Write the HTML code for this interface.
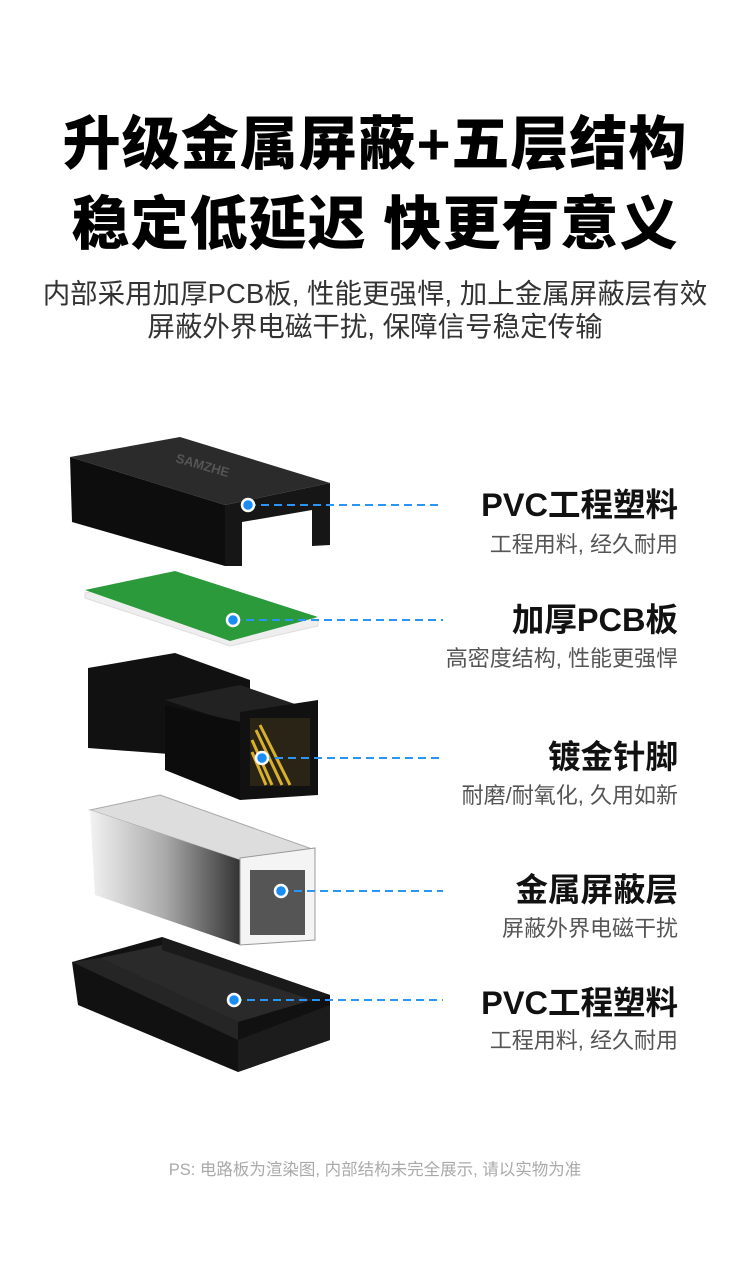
<!DOCTYPE html>
<html><head><meta charset="utf-8"><style>
body{margin:0;background:#fff;width:750px;height:1287px;position:relative;overflow:hidden;font-family:"Liberation Sans","Noto Sans CJK SC",sans-serif}
.t{position:absolute;left:0;width:750px;text-align:center;font-weight:900;font-size:58px;color:#000;letter-spacing:1px}
.s{position:absolute;left:0;width:750px;text-align:center;font-size:27.5px;color:#333;line-height:32px}
.l{position:absolute;right:72px;text-align:right;font-weight:bold;font-size:32.5px;color:#111}
.d{position:absolute;right:72px;text-align:right;font-size:22px;color:#555}
</style></head><body>
<div class="t" style="top:97px">升级金属屏蔽+五层结构</div>
<div class="t" style="top:177px">稳定低延迟 快更有意义</div>
<div class="s" style="top:278px">内部采用加厚PCB板, 性能更强悍, 加上金属屏蔽层有效</div>
<div class="s" style="top:311px">屏蔽外界电磁干扰, 保障信号稳定传输</div>

<svg style="position:absolute;left:0;top:0" width="750" height="1287">
<defs><linearGradient id="m" x1="0" x2="1"><stop offset="0" stop-color="#f2f2f2"/><stop offset="0.5" stop-color="#aaa"/><stop offset="1" stop-color="#333"/></linearGradient></defs>
<polygon points="70,457 180,437 330,483 225,505" fill="#2b2b2b"/>
<polygon points="70,457 225,505 225,566 72,522" fill="#0d0d0d"/>
<polygon points="225,505 330,483 330,545 312,546 312,510 242,522 242,566 225,566" fill="#161616"/>
<text x="175" y="462" font-size="13" fill="#555" font-weight="bold" transform="rotate(16 175 462)">SAMZHE</text>
<polygon points="85,593 175,573 318,620 318,626 230,646 85,598" fill="#eee" stroke="#ddd"/>
<polygon points="85,590 175,571 318,617 230,641" fill="#2a9a3a"/>
<polygon points="88,668 175,653 250,680 250,760 88,748" fill="#111"/>
<polygon points="165,700 240,685 318,712 240,725" fill="#222"/>
<polygon points="165,705 240,722 240,800 165,770" fill="#0c0c0c"/>
<polygon points="240,712 318,700 318,795 240,800" fill="#111"/>
<rect x="250" y="718" width="60" height="68" fill="#2a2417"/>
<path d="M252,740 l20,45 M252,752 l14,33 M256,730 l26,55 M260,725 l30,60" stroke="#d8b02a" stroke-width="3"/>
<polygon points="90,810 160,795 315,850 240,860" fill="#ddd" stroke="#aaa"/>
<polygon points="90,810 240,860 240,945 95,895" fill="url(#m)"/>
<polygon points="240,858 315,848 315,940 240,945" fill="#f4f4f4" stroke="#999"/>
<rect x="250" y="870" width="55" height="65" fill="#555"/>
<polygon points="72,962 162,937 330,995 330,1040 238,1072 78,1005" fill="#111"/>
<polygon points="100,958 162,945 312,1000 238,1022" fill="#2a2a2a"/>
<polygon points="162,937 330,995 312,1000 162,950" fill="#1a1a1a"/>
<polygon points="72,962 100,958 238,1022 238,1040" fill="#252525"/>
<polygon points="238,1040 330,1005 330,1040 238,1072" fill="#1c1c1c"/>
<g stroke="#2a95f5" stroke-width="2" stroke-dasharray="8,5">
<line x1="248" y1="505" x2="443" y2="505"/><line x1="233" y1="620" x2="443" y2="620"/>
<line x1="262" y1="758" x2="443" y2="758"/><line x1="281" y1="891" x2="443" y2="891"/>
<line x1="234" y1="1000" x2="443" y2="1000"/></g>
<g fill="#1a8df5" stroke="#fff" stroke-width="2.5">
<circle cx="248" cy="505" r="6"/><circle cx="233" cy="620" r="6"/><circle cx="262" cy="758" r="6"/><circle cx="281" cy="891" r="6"/><circle cx="234" cy="1000" r="6"/></g>
</svg>

<div class="l" style="top:479px">PVC工程塑料</div><div class="d" style="top:527px">工程用料, 经久耐用</div>
<div class="l" style="top:594px">加厚PCB板</div><div class="d" style="top:641px">高密度结构, 性能更强悍</div>
<div class="l" style="top:731px">镀金针脚</div><div class="d" style="top:778px">耐磨/耐氧化, 久用如新</div>
<div class="l" style="top:864px">金属屏蔽层</div><div class="d" style="top:911px">屏蔽外界电磁干扰</div>
<div class="l" style="top:977px">PVC工程塑料</div><div class="d" style="top:1023px">工程用料, 经久耐用</div>
<div style="position:absolute;top:1156px;left:0;width:750px;text-align:center;font-size:16.5px;color:#aaa">PS: 电路板为渲染图, 内部结构未完全展示, 请以实物为准</div>
</body></html>
